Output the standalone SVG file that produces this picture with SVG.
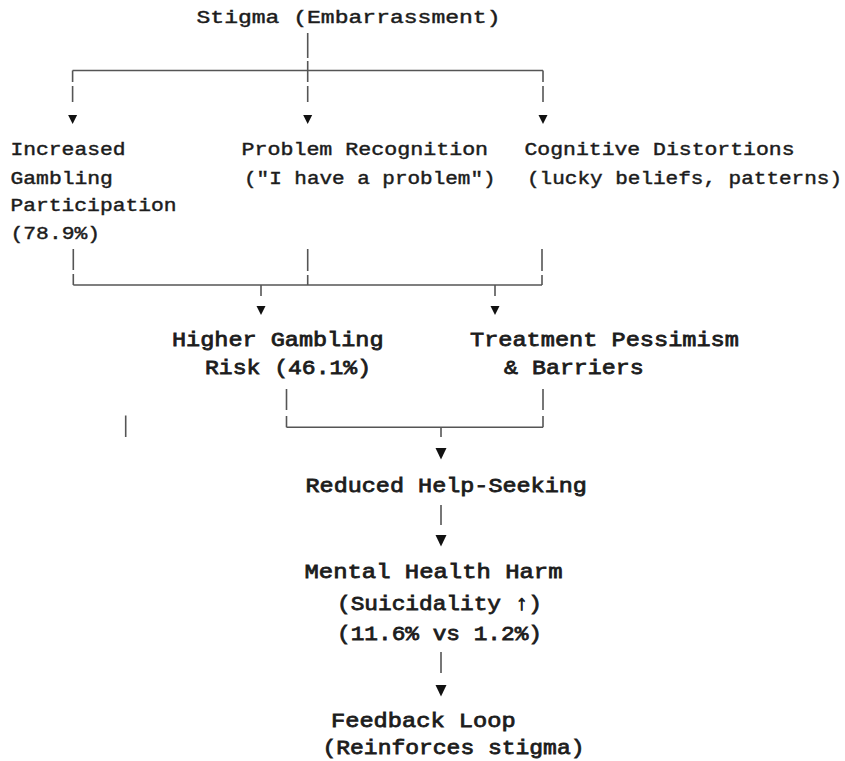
<svg xmlns="http://www.w3.org/2000/svg" xmlns:xlink="http://www.w3.org/1999/xlink" width="845" height="761" viewBox="0 0 845 761">
<style>
.t{font-family:"Liberation Mono","Courier New",monospace;fill:#1c1c1c}
.s{font-size:19px;stroke:#1c1c1c;stroke-width:0.45}
.l{font-size:21px;stroke:#1c1c1c;stroke-width:0.8}
.c line{stroke:#555;stroke-width:1.6;fill:none}
.c use{fill:#111}
</style>
<defs>
<path id="a" d="M-4.5,0 L4.5,0 L0,9 Z"/>
<path id="A" d="M-5.5,0 L5.5,0 L0,11.5 Z"/>
</defs>
<rect width="845" height="761" fill="#fff"/>
<g id="stigma" class="t s">
<text x="196.5" y="22.5" textLength="304" lengthAdjust="spacingAndGlyphs">Stigma (Embarrassment)</text>
</g>
<g id="participation" class="t s">
<text x="10.5" y="155" textLength="115" lengthAdjust="spacingAndGlyphs">Increased</text>
<text x="10.5" y="183.5" textLength="102.4" lengthAdjust="spacingAndGlyphs">Gambling</text>
<text x="10.5" y="211" textLength="166" lengthAdjust="spacingAndGlyphs">Participation</text>
<text x="10.5" y="238.5" textLength="89.6" lengthAdjust="spacingAndGlyphs">(78.9%)</text>
</g>
<g id="recognition" class="t s">
<text x="241.5" y="155" textLength="246.6" lengthAdjust="spacingAndGlyphs">Problem Recognition</text>
<text x="244" y="183.5" textLength="251.6" lengthAdjust="spacingAndGlyphs">("I have a problem")</text>
</g>
<g id="distortions" class="t s">
<text x="524.5" y="155" textLength="270" lengthAdjust="spacingAndGlyphs">Cognitive Distortions</text>
<text x="527" y="183.5" textLength="315" lengthAdjust="spacingAndGlyphs">(lucky beliefs, patterns)</text>
</g>
<g id="risk" class="t l">
<text x="172" y="346" textLength="211.5" lengthAdjust="spacingAndGlyphs">Higher Gambling</text>
<text x="205" y="374" textLength="166" lengthAdjust="spacingAndGlyphs">Risk (46.1%)</text>
</g>
<g id="pessimism" class="t l">
<text x="470" y="346" textLength="268.9" lengthAdjust="spacingAndGlyphs">Treatment Pessimism</text>
<text x="504" y="374" textLength="139.7" lengthAdjust="spacingAndGlyphs">&amp; Barriers</text>
</g>
<g id="helpseeking" class="t l">
<text x="305.5" y="491.7" textLength="281.4" lengthAdjust="spacingAndGlyphs">Reduced Help-Seeking</text>
</g>
<g id="mentalhealth" class="t l">
<text x="304.5" y="578" textLength="258" lengthAdjust="spacingAndGlyphs">Mental Health Harm</text>
<text x="337" y="609.5" textLength="205" lengthAdjust="spacingAndGlyphs">(Suicidality ↑)</text>
<text x="337" y="639.5" textLength="205" lengthAdjust="spacingAndGlyphs">(11.6% vs 1.2%)</text>
</g>
<g id="feedback" class="t l">
<text x="331" y="727" textLength="184.6" lengthAdjust="spacingAndGlyphs">Feedback Loop</text>
<text x="322.5" y="754" textLength="262" lengthAdjust="spacingAndGlyphs">(Reinforces stigma)</text>
</g>
<g id="connectors" class="c">
<line x1="307.7" y1="33" x2="307.7" y2="58"/>
<line x1="307.7" y1="61" x2="307.7" y2="70.5"/>
<line x1="72.6" y1="70.5" x2="543" y2="70.5"/>
<line x1="72.6" y1="70.5" x2="72.6" y2="82"/>
<line x1="72.6" y1="86" x2="72.6" y2="102"/>
<line x1="307.7" y1="70.5" x2="307.7" y2="82"/>
<line x1="307.7" y1="86" x2="307.7" y2="102"/>
<line x1="543" y1="70.5" x2="543" y2="82"/>
<line x1="543" y1="86" x2="543" y2="102"/>
<use xlink:href="#a" x="72.6" y="115"/>
<use xlink:href="#a" x="307.7" y="115"/>
<use xlink:href="#a" x="543" y="115"/>
<line x1="73.3" y1="249" x2="73.3" y2="270"/>
<line x1="73.3" y1="274" x2="73.3" y2="285"/>
<line x1="307.7" y1="249" x2="307.7" y2="271"/>
<line x1="307.7" y1="275" x2="307.7" y2="285"/>
<line x1="542" y1="249" x2="542" y2="271"/>
<line x1="542" y1="275" x2="542" y2="285"/>
<line x1="73.3" y1="285" x2="542" y2="285"/>
<line x1="261" y1="285" x2="261" y2="296"/>
<line x1="495" y1="285" x2="495" y2="296"/>
<use xlink:href="#a" x="261" y="306"/>
<use xlink:href="#a" x="495" y="306"/>
<line x1="286.5" y1="389" x2="286.5" y2="410"/>
<line x1="286.5" y1="416" x2="286.5" y2="427.3"/>
<line x1="543" y1="389" x2="543" y2="410"/>
<line x1="543" y1="416" x2="543" y2="427.3"/>
<line x1="286.5" y1="427.3" x2="543" y2="427.3"/>
<line x1="441" y1="427.3" x2="441" y2="437"/>
<use xlink:href="#A" x="441" y="448"/>
<line x1="125.7" y1="415.5" x2="125.7" y2="437"/>
<line x1="441" y1="505" x2="441" y2="525"/>
<use xlink:href="#A" x="441" y="535"/>
<line x1="441" y1="652" x2="441" y2="673"/>
<use xlink:href="#A" x="441" y="685"/>
</g>
</svg>
